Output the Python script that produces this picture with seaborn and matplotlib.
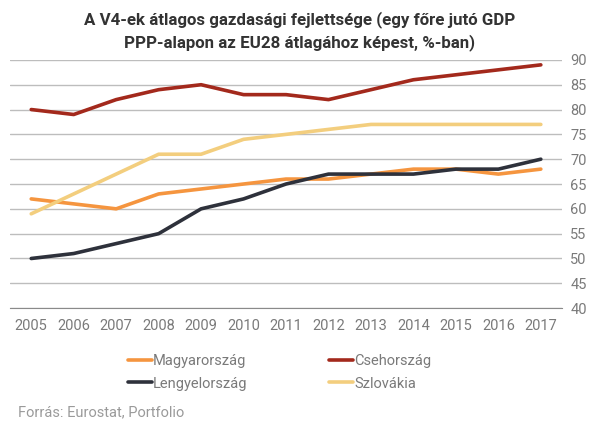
import matplotlib.pyplot as plt
import pandas as pd
import seaborn as sns

years = list(range(2005, 2018))
magyar = [62, 61, 60, 63, 64, 65, 66, 66, 67, 68, 68, 67, 68]
cseh = [80, 79, 82, 84, 85, 83, 83, 82, 84, 86, 87, 88, 89]
lengyel = [50, 51, 53, 55, 60, 62, 65, 67, 67, 67, 68, 68, 70]
szlovak = [59, 63, 67, 71, 71, 74, 75, 76, 77, 77, 77, 77, 77]

names = ['Magyarország', 'Csehország', 'Lengyelország', 'Szlovákia']
colors = ['#F5953F', '#A3291C', '#2E313B', '#F3CE7E']

df = pd.DataFrame({'year': years, names[0]: magyar, names[1]: cseh,
                   names[2]: lengyel, names[3]: szlovak})
df_long = df.melt(id_vars='year', var_name='orszag', value_name='value')

sns.set_style('white')
plt.rcParams['font.family'] = ['Roboto', 'DejaVu Sans']

fig = plt.figure(figsize=(6.06, 4.34), dpi=100)
ax = fig.add_axes([0.0165, 0.29, 0.911, 0.572])

sns.lineplot(ax=ax, data=df_long, x='year', y='value', hue='orszag',
             hue_order=names, palette=colors, linewidth=2.6, legend=False)

ax.set_xlim(2004.5, 2017.5)
ax.set_ylim(40, 90)
ax.set_xticks(years)
ax.set_yticks(range(40, 95, 5))
ax.yaxis.tick_right()
ax.tick_params(axis='both', length=0, labelsize=10.5, colors='#7a7a7a')
ax.tick_params(axis='x', pad=8)
ax.tick_params(axis='y', pad=6)
ax.grid(axis='y', color='#bdbdbd', linewidth=1)
ax.set_axisbelow(True)
for s in ['top', 'left', 'right']:
    ax.spines[s].set_visible(False)
ax.spines['bottom'].set_color('#8a8a8a')
ax.set_xlabel('')
ax.set_ylabel('')

fig.text(0.495, 0.975, 'A V4-ek átlagos gazdasági fejlettsége (egy főre jutó GDP\nPPP-alapon az EU28 átlagához képest, %-ban)',
         ha='center', va='top', fontsize=12.2, fontweight='bold', color='#333333', linespacing=1.45)

# legend fills row by row in the reference: reorder for matplotlib's column-wise fill
order = [0, 2, 1, 3]
handles = [plt.Line2D([], [], color=colors[i], linewidth=2.6) for i in order]
labels = [names[i] for i in order]
fig.legend(handles, labels, loc='upper left', bbox_to_anchor=(0.19, 0.215), ncol=2,
           frameon=False, fontsize=10.5, labelcolor='#7a7a7a', handlelength=1.6,
           handletextpad=0.1, columnspacing=5.6, labelspacing=0.6)

fig.text(0.03, 0.05, 'Forrás: Eurostat, Portfolio', ha='left', va='center',
         fontsize=10.5, color='#9a9a9a')

fig.savefig('out.png', dpi=100)
